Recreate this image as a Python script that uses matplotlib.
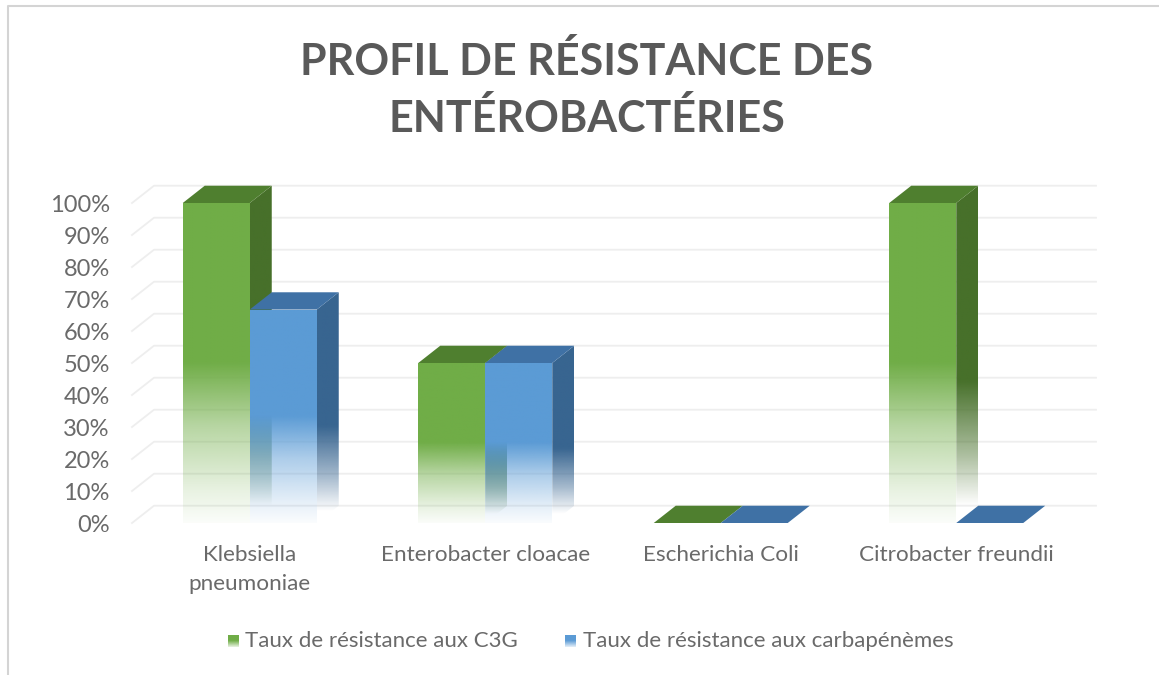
import numpy as np
import matplotlib
matplotlib.use("Agg")
import matplotlib.pyplot as plt
from matplotlib.colors import to_rgb
from matplotlib.patches import Polygon

plt.rcParams["font.family"] = ["Lato", "DejaVu Sans"]

categories = ["Klebsiella\npneumoniae", "Enterobacter cloacae", "Escherichia Coli", "Citrobacter freundii"]
series_names = ["Taux de résistance aux C3G", "Taux de résistance aux carbapénèmes"]
c3g = [100, 50, 0, 100]
carba = [66.7, 50, 0, 0]
y_ticks = list(range(0, 101, 10))

W, H = 1159, 675
BAR_W = 0.2845
DEPTH_X = 0.0934
DEPTH_Y = 5.4

GREEN = {"front": "#70ad47", "side": "#47702a", "top": "#4f7f2f"}
BLUE = {"front": "#5b9bd5", "side": "#386590", "top": "#3f71a5"}
GREY = "#6a6a6a"


def gradient(color, stops_y, stops_a):
    # vertical rgba strip, first row is the top of the image
    a = np.interp(np.linspace(1, 0, 256), stops_y, stops_a)
    img = np.ones((256, 1, 4))
    img[:, :, :3] = to_rgb(color)
    img[:, 0, 3] = a
    return img


def faded_face(ax, pts, color, stops_y, stops_a, z):
    pts = np.array(pts)
    img = gradient(color, stops_y, stops_a)
    y0, y1 = pts[:, 1].min(), pts[:, 1].max()
    im = ax.imshow(img, extent=(pts[:, 0].min(), pts[:, 0].max(), y0, y1),
                   aspect="auto", origin="upper", zorder=z, interpolation="bilinear")
    poly = Polygon(pts, closed=True, transform=ax.transData)
    im.set_clip_path(poly)


def draw_bar(ax, x, val, col, z):
    h = max(val, 0)
    xr = x + BAR_W
    if h > 0:
        # side fades out first, front stays solid down to about half the bar
        faded_face(ax, [(xr, 0), (xr + DEPTH_X, DEPTH_Y), (xr + DEPTH_X, h + DEPTH_Y), (xr, h)],
                   col["side"], [0, 0.05, 0.2, 0.42, 1], [0, 0, 0.45, 1, 1], z)
        faded_face(ax, [(x, 0), (xr, 0), (xr, h), (x, h)],
                   col["front"], [0, 0.1, 0.3, 0.5, 1], [0.03, 0.16, 0.5, 1, 1], z + 1)
    ax.add_patch(Polygon([(x, h), (xr, h), (xr + DEPTH_X, h + DEPTH_Y), (x + DEPTH_X, h + DEPTH_Y)],
                         closed=True, facecolor=col["top"], edgecolor="none", zorder=z + 2, clip_on=False))


fig = plt.figure(figsize=(W / 100, H / 100), dpi=100, facecolor="white")

# plot area: 0 % at y=523 px, 100 % at y=203 px, extended for the depth of the box
ax_w = 942 * (4 + DEPTH_X) / 4
ax_h = 3.2 * (100 + DEPTH_Y)
ax = fig.add_axes([132 / W, 1 - 523 / H, ax_w / W, ax_h / H])
ax.set_facecolor("none")
for s in ax.spines.values():
    s.set_visible(False)

# walls of the 3d box
for t in y_ticks:
    ax.plot([-0.5, -0.5 + DEPTH_X, 3.5 + DEPTH_X], [t, t + DEPTH_Y, t + DEPTH_Y],
            color="#eeeeee", lw=1.3, zorder=1, clip_on=False)

for i in range(len(categories)):
    draw_bar(ax, i - BAR_W, c3g[i], GREEN, 3)
    draw_bar(ax, i, carba[i], BLUE, 6)

ax.set_xlim(-0.5, 3.5 + DEPTH_X)
ax.set_ylim(0, 100 + DEPTH_Y)
ax.set_yticks(y_ticks)
ax.set_yticklabels([f"{t}%" for t in y_ticks], fontsize=17, color=GREY)
ax.set_xticks(range(len(categories)))
ax.set_xticklabels(categories, fontsize=16.2, color=GREY, linespacing=1.55)
ax.tick_params(length=0)
ax.tick_params(axis="y", pad=16)
ax.tick_params(axis="x", pad=16)

fig.text(587 / W, 1 - 90 / H, "PROFIL DE RÉSISTANCE DES\nENTÉROBACTÉRIES", ha="center", va="center",
         fontsize=31, fontweight="bold", color="#595959", linespacing=1.45)

# legend with small faded swatches
legend_pos = [(228, 245), (565, 583)]
for (sw, tx), name, col in zip(legend_pos, series_names, [GREEN, BLUE]):
    sax = fig.add_axes([sw / W, 1 - 647 / H, 11 / W, 12 / H])
    sax.imshow(gradient(col["front"], [0, 0.5, 1], [0.15, 1, 1]), aspect="auto", interpolation="bilinear")
    sax.axis("off")
    fig.text(tx / W, 1 - 641 / H, name, ha="left", va="center", fontsize=16, color=GREY)

# frame of the pasted chart
fig.add_artist(plt.Line2D([8 / W, 8 / W, 1], [0, 1 - 6 / H, 1 - 6 / H], color="#d4d4d4", lw=1.5))

fig.savefig("out.png", dpi=100)
